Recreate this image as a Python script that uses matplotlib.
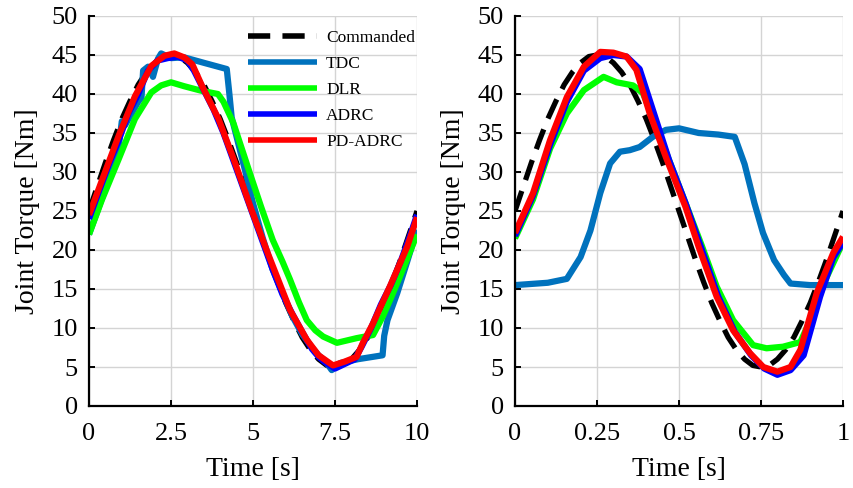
import matplotlib
matplotlib.use("Agg")
import matplotlib.pyplot as plt

# ---------------- data: left panel (time 0-10 s) ----------------
cmd_t_left = [0, 0.25, 0.5, 0.75, 1, 1.25, 1.5, 1.75, 2, 2.25, 2.5, 2.75, 3, 3.25, 3.5, 3.75, 4, 4.25,
              4.5, 4.75, 5, 5.25, 5.5, 5.75, 6, 6.25, 6.5, 6.75, 7, 7.25, 7.5, 7.75, 8, 8.25, 8.5,
              8.75, 9, 9.25, 9.5, 9.75, 10]
cmd_v_left = [25, 28.1, 31.2, 34.1, 36.8, 39.1, 41.2, 42.8, 44.0, 44.8, 45, 44.8, 44.0, 42.8, 41.2,
              39.1, 36.8, 34.1, 31.2, 28.1, 25, 21.9, 18.8, 15.9, 13.2, 10.9, 8.8, 7.2, 6.0, 5.2, 5,
              5.2, 6.0, 7.2, 8.8, 10.9, 13.2, 15.9, 18.8, 21.9, 25]

tdc_t_left = [0, 0.3, 0.6, 0.9, 1.0, 1.1, 1.3, 1.5, 1.6, 1.65, 1.8, 1.95, 2.1, 2.2, 2.5, 2.9, 3.5, 4.2,
              4.28, 4.35, 4.5, 4.8, 5.0, 5.3, 5.6, 5.9, 6.2, 6.5, 6.8, 7.0, 7.2, 7.4, 7.65, 8.2, 8.95,
              9.0, 9.1, 9.4, 9.7, 10]
tdc_v_left = [22, 25.5, 29, 33, 36.5, 36, 37.5, 39, 39.5, 43, 43.5, 42.2, 44.5, 45.2, 44.6, 44.7, 44.0, 43.2,
              40, 37, 34.5, 29.5, 26, 21.5, 17.5, 14.5, 11.5, 9.2, 7.5, 6.5, 5.8, 4.6, 5.5, 6.0, 6.5,
              9, 11, 14.5, 18.5, 22.6]

dlr_t_left = [0, 0.4, 0.9, 1.4, 1.9, 2.2, 2.5, 2.9, 3.44, 3.93, 4.1, 4.4, 4.9, 5.25, 5.6, 5.9, 6.13,
              6.4, 6.64, 6.9, 7.14, 7.56, 8.16, 8.66, 8.96, 9.2, 9.48, 9.75, 10]
dlr_v_left = [22, 26.5, 31.6, 36.8, 40.2, 41.1, 41.5, 41, 40.4, 40, 39, 36.3, 29.9, 25.5, 21.3, 18.5,
              16.2, 13.3, 11, 9.7, 8.9, 8.1, 8.7, 9.1, 11.5, 13.8, 16.6, 19.4, 22]

adrc_t_left = [0, 0.3, 0.6, 0.9, 1.2, 1.5, 1.8, 2.1, 2.4, 2.7, 3.0, 3.2, 3.5, 3.8, 4.1, 4.4, 4.7, 5.0,
               5.3, 5.6, 5.9, 6.2, 6.5, 6.8, 7.0, 7.2, 7.5, 7.8, 8.1, 8.3, 8.6, 8.9, 9.2, 9.5, 9.8, 10]
adrc_v_left = [24, 27.5, 31, 34, 37.5, 40, 43, 44.3, 44.6, 44.8, 44.3, 43, 40.5, 38, 35, 31.5, 28, 24.5,
               21, 17.5, 14.3, 11.8, 9.5, 7.3, 6.3, 5.6, 4.8, 5.4, 6.0, 7.5, 10, 13, 15.5, 18.5, 22, 24.5]

pd_t_left = [0, 0.4, 0.9, 1.4, 1.9, 2.3, 2.6, 2.9, 3.15, 3.45, 3.95, 4.45, 4.95, 5.45, 6.13, 6.64,
             7.0, 7.44, 7.8, 8.16, 8.35, 8.66, 9.17, 9.7, 10]
pd_v_left = [24.5, 29, 34.6, 39.7, 43.6, 44.9, 45.2, 44.7, 43.8, 41, 36.8, 31.2, 25.2, 19.6, 12.3, 8.5,
             6.5, 5.2, 5.7, 6.3, 8.1, 10.6, 15.3, 20.4, 24.2]

# ---------------- data: right panel (time 0-1 s) ----------------
cmd_t_right = [0, 0.025, 0.05, 0.075, 0.1, 0.125, 0.15, 0.175, 0.2, 0.225, 0.25, 0.275, 0.3, 0.325,
               0.35, 0.375, 0.4, 0.425, 0.45, 0.475, 0.5, 0.525, 0.55, 0.575, 0.6, 0.625, 0.65, 0.675,
               0.7, 0.725, 0.75, 0.775, 0.8, 0.825, 0.85, 0.875, 0.9, 0.925, 0.95, 0.975, 1.0]
cmd_v_right = [25, 28.1, 31.2, 34.1, 36.8, 39.1, 41.2, 42.8, 44.0, 44.8, 45, 44.8, 44.0, 42.8, 41.2,
               39.1, 36.8, 34.1, 31.2, 28.1, 25, 21.9, 18.8, 15.9, 13.2, 10.9, 8.8, 7.2, 6.0, 5.2, 5,
               5.2, 6.0, 7.2, 8.8, 10.9, 13.2, 15.9, 18.8, 21.9, 25]

tdc_t_right = [0, 0.1, 0.158, 0.2, 0.23, 0.26, 0.29, 0.32, 0.35, 0.38, 0.42, 0.46, 0.5, 0.56, 0.62,
               0.67, 0.7, 0.73, 0.756, 0.79, 0.82, 0.84, 0.9, 1.0]
tdc_v_right = [15.5, 15.8, 16.3, 19.1, 22.5, 27.3, 31.1, 32.6, 32.8, 33.2, 34.5, 35.4, 35.6, 35, 34.8,
               34.5, 31, 26, 22.2, 18.7, 16.8, 15.7, 15.5, 15.5]

dlr_t_right = [0, 0.055, 0.107, 0.158, 0.21, 0.27, 0.31, 0.36, 0.39, 0.42, 0.47, 0.52, 0.57, 0.615,
               0.665, 0.726, 0.767, 0.817, 0.87, 0.9, 0.95, 1.0]
dlr_v_right = [21.5, 26.5, 33, 37.5, 40.5, 42.2, 41.5, 41.1, 40.1, 37, 31.5, 26, 20.5, 15.3,
               11, 7.8, 7.4, 7.6, 8.2, 11, 16.5, 21]

adrc_t_right = [0, 0.055, 0.107, 0.158, 0.21, 0.26, 0.3, 0.34, 0.38, 0.42, 0.47, 0.52, 0.57, 0.62,
                0.67, 0.72, 0.76, 0.8, 0.84, 0.88, 0.93, 0.97, 1.0]
adrc_v_right = [21.8, 27, 33.5, 39, 43, 44.6, 45, 44.8, 43.2, 38, 31.5, 26, 20, 14,
                9.5, 6.5, 4.8, 4.0, 4.6, 6.5, 14, 19, 21]

pd_t_right = [0, 0.055, 0.107, 0.158, 0.21, 0.26, 0.3, 0.34, 0.37, 0.41, 0.46, 0.52, 0.56, 0.615,
              0.665, 0.716, 0.757, 0.8, 0.84, 0.87, 0.92, 0.97, 1.0]
pd_v_right = [22.2, 27.3, 34.1, 39.6, 43.5, 45.4, 45.3, 44.8, 43.1, 37.6, 31.9, 25.5, 20.4, 14,
              9.7, 6.8, 5, 4.4, 5, 7.2, 14.5, 19.6, 21.7]

labels = ["Commanded", "TDC", "DLR", "ADRC", "PD-ADRC"]
colors = ["black", "#0072BD", "#00FF00", "#0000FF", "#FF0000"]

yticks = [0, 5, 10, 15, 20, 25, 30, 35, 40, 45, 50]
xticks_left = [0, 2.5, 5, 7.5, 10]
xticklabels_left = ["0", "2.5", "5", "7.5", "10"]
xticks_right = [0, 0.25, 0.5, 0.75, 1]
xticklabels_right = ["0", "0.25", "0.5", "0.75", "1"]

plt.rcParams['font.family'] = ['Liberation Serif', 'DejaVu Serif']

fig = plt.figure(figsize=(8.54, 4.88), dpi=100)
ax1 = fig.add_axes([89/854, 1-406/488, 328/854, 390/488])
ax2 = fig.add_axes([515/854, 1-406/488, 328/854, 390/488])

lw = 4.5

def draw(ax, data, xmax, xticks, xticklabels):
    for (t, v), lab, c in zip(data, labels, colors):
        if lab == "Commanded":
            ax.plot(t, v, color=c, lw=3.8, dashes=(4, 2.2), label=lab, zorder=2)
        else:
            ax.plot(t, v, color=c, lw=lw, label=lab, zorder=3, solid_joinstyle='round',
                    solid_capstyle='butt')
    ax.set_xlim(0, xmax)
    ax.set_ylim(0, 50)
    ax.set_xticks(xticks)
    ax.set_xticklabels(xticklabels)
    ax.set_yticks(yticks)
    ax.grid(True, color='#d4d4d4', lw=1.0)
    ax.set_axisbelow(True)
    for s in ['top', 'right']:
        ax.spines[s].set_visible(False)
    for s in ['left', 'bottom']:
        ax.spines[s].set_linewidth(1.6)
        ax.spines[s].set_zorder(5)
    ax.tick_params(direction='in', length=4, width=1.4, labelsize=19)
    ax.tick_params(axis='x', pad=12)
    ax.tick_params(axis='y', pad=8)
    ax.set_xlabel("Time [s]", fontsize=20, labelpad=9)
    ax.set_ylabel("Joint Torque [Nm]", fontsize=20, labelpad=8)

draw(ax1, [(cmd_t_left, cmd_v_left), (tdc_t_left, tdc_v_left), (dlr_t_left, dlr_v_left),
           (adrc_t_left, adrc_v_left), (pd_t_left, pd_v_left)], 10, xticks_left, xticklabels_left)
draw(ax2, [(cmd_t_right, cmd_v_right), (tdc_t_right, tdc_v_right), (dlr_t_right, dlr_v_right),
           (adrc_t_right, adrc_v_right), (pd_t_right, pd_v_right)], 1, xticks_right, xticklabels_right)

leg = ax1.legend(loc='upper left', bbox_to_anchor=((248-89)/328, (406-30)/390), frameon=False,
                 fontsize=12.5, handlelength=4.0, handletextpad=0.5, labelspacing=0.56,
                 borderpad=0, borderaxespad=0)
for line in leg.get_lines():
    line.set_linewidth(4.0)

fig.savefig("out.png", dpi=100)
